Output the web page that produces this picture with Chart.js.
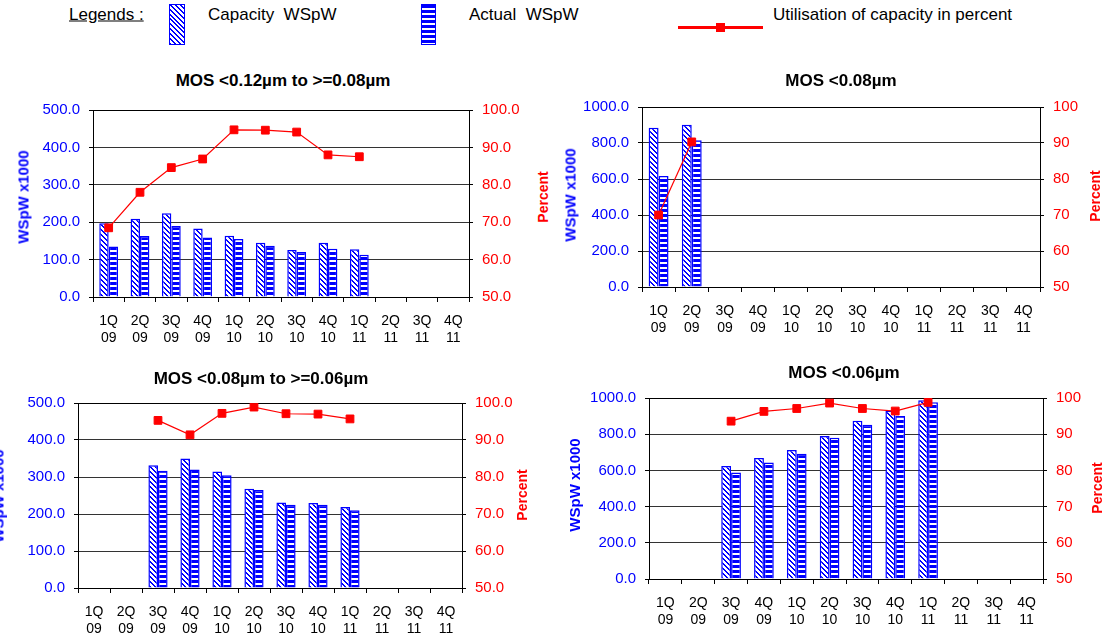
<!DOCTYPE html>
<html>
<head>
<meta charset="utf-8">
<script src="https://cdn.jsdelivr.net/npm/chart.js@4.4.1/dist/chart.umd.min.js"></script>
<style>
  html, body { margin: 0; padding: 0; background: #fff; }
  #page { position: relative; width: 1105px; height: 638px; overflow: hidden;
          font-family: "Liberation Sans", Arial, sans-serif; }
  #page canvas { position: absolute; }
  .txt { position: absolute; white-space: nowrap; line-height: 1; }
  .title { font-weight: bold; font-size: 17px; color: #000; transform: translate(-50%, -50%); }
  .axt { font-weight: bold; transform: translate(-50%, -50%) rotate(-90deg); }
  .blue { color: #0000ff; font-size: 15px; }
  .red { color: #ff0000; font-size: 14px; }
  .leg { font-size: 17px; color: #000; transform: translateY(-50%); }
  .sw { position: absolute; box-sizing: border-box; border: 1px solid #0000ff; }
</style>
</head>
<body>
<div id="page">
  <!-- legend -->
  <div class="txt leg" style="left:69px;top:14px;text-decoration:underline;">Legends :</div>
  <div class="sw" style="left:169px;top:4px;width:16px;height:41px;
       background:repeating-linear-gradient(45deg,#0000ff 0 1.4px,#fff 1.4px 3.4px);"></div>
  <div class="txt leg" style="left:208px;top:14px;">Capacity&nbsp; WSpW</div>
  <div class="sw" style="left:421px;top:4px;width:15px;height:41px;
       background:repeating-linear-gradient(to bottom,#0000ff 0 3px,#fff 3px 5px);"></div>
  <div class="txt leg" style="left:469px;top:14px;">Actual&nbsp; WSpW</div>
  <div style="position:absolute;left:678px;top:26px;width:85px;height:3px;background:#ff0000;"></div>
  <div style="position:absolute;left:716px;top:23px;width:9px;height:9px;background:#ff0000;"></div>
  <div class="txt leg" style="left:773px;top:14px;">Utilisation of capacity in percent</div>

  <canvas id="c1"></canvas>
  <canvas id="c2"></canvas>
  <canvas id="c3"></canvas>
  <canvas id="c4"></canvas>

  <!-- chart titles -->
  <div class="txt title" style="left:283px;top:80px;">MOS &lt;0.12µm to &gt;=0.08µm</div>
  <div class="txt title" style="left:841px;top:80px;">MOS &lt;0.08µm</div>
  <div class="txt title" style="left:261px;top:378px;">MOS &lt;0.08µm to &gt;=0.06µm</div>
  <div class="txt title" style="left:844px;top:372px;">MOS &lt;0.06µm</div>

  <!-- axis titles -->
  <div class="txt axt blue" style="left:23px;top:197px;">WSpW x1000</div>
  <div class="txt axt red" style="left:543px;top:197px;">Percent</div>
  <div class="txt axt blue" style="left:570px;top:195px;">WSpW x1000</div>
  <div class="txt axt red" style="left:1095px;top:196px;">Percent</div>
  <div class="txt axt blue" style="left:-2px;top:496px;">WSpW x1000</div>
  <div class="txt axt red" style="left:522px;top:495px;">Percent</div>
  <div class="txt axt blue" style="left:574px;top:485px;">WSpW x1000</div>
  <div class="txt axt red" style="left:1097px;top:488px;">Percent</div>
</div>

<script>
(function () {
	'use strict';

	// Quarter labels (two lines each).
	var categories = [
		['1Q', '09'], ['2Q', '09'], ['3Q', '09'], ['4Q', '09'],
		['1Q', '10'], ['2Q', '10'], ['3Q', '10'], ['4Q', '10'],
		['1Q', '11'], ['2Q', '11'], ['3Q', '11'], ['4Q', '11']
	];

	// MOS <0.12um to >=0.08um
	var capacity1 = [197, 209, 224, 183, 164, 145, 126, 145, 128, null, null, null];
	var actual1   = [135, 163, 190, 159, 155, 137, 120, 129, 113, null, null, null];
	var util1     = [68.5, 78.0, 84.6, 86.9, 94.7, 94.6, 94.1, 88.0, 87.5, null, null, null];

	// MOS <0.08um
	var capacity2 = [885, 902, null, null, null, null, null, null, null, null, null, null];
	var actual2   = [617, 815, null, null, null, null, null, null, null, null, null, null];
	var util2     = [70.0, 90.3, null, null, null, null, null, null, null, null, null, null];

	// MOS <0.08um to >=0.06um
	var capacity3 = [null, null, 332, 350, 315, 268, 231, 230, 219, null, null, null];
	var actual3   = [null, null, 317, 320, 305, 265, 225, 225, 210, null, null, null];
	var util3     = [null, null, 95.3, 91.4, 97.2, 98.9, 97.1, 97.0, 95.7, null, null, null];

	// MOS <0.06um
	var capacity4 = [null, null, 624, 668, 713, 790, 875, 930, 987, null, null, null];
	var actual4   = [null, null, 588, 643, 692, 781, 852, 900, 977, null, null, null];
	var util4     = [null, null, 93.6, 96.3, 97.1, 98.6, 97.1, 96.4, 98.8, null, null, null];

	var BLUE = '#0000ff';
	var RED  = '#ff0000';
	var FONT = '"Liberation Sans", Arial, sans-serif';

	Chart.defaults.font.family = FONT;

	function hatch(ctx) {
		var c = document.createElement('canvas');
		c.width = 5; c.height = 5;
		var g = c.getContext('2d');
		g.fillStyle = '#fff';
		g.fillRect(0, 0, 5, 5);
		g.fillStyle = BLUE;
		for (var i = 0; i < 5; i++) {
			g.fillRect(i, i, 1, 1);
			g.fillRect((i + 1) % 5, i, 1, 1);
		}
		return ctx.createPattern(c, 'repeat');
	}

	function stripes(ctx) {
		var c = document.createElement('canvas');
		c.width = 4; c.height = 5;
		var g = c.getContext('2d');
		g.fillStyle = '#fff';
		g.fillRect(0, 0, 4, 5);
		g.fillStyle = BLUE;
		g.fillRect(0, 0, 4, 3);
		return ctx.createPattern(c, 'repeat');
	}

	function makeChart(id, box, cap, act, util, yMax, yStep, pctDigits) {
		var L = 80, R = 60, T = 12, B = 50;
		var cv = document.getElementById(id);
		cv.width = L + box.w + R;
		cv.height = T + box.h + B;
		cv.style.left = (box.x - L) + 'px';
		cv.style.top = (box.y - T) + 'px';
		var ctx = cv.getContext('2d');

		new Chart(cv, {
			type: 'bar',
			data: {
				labels: categories,
				datasets: [
					{
						type: 'line',
						label: 'Utilisation of capacity in percent',
						data: util,
						yAxisID: 'y1',
						borderColor: RED,
						borderWidth: 1.2,
						pointStyle: 'rect',
						pointRadius: 5.5,
						pointBackgroundColor: RED,
						pointBorderColor: RED,
						pointBorderWidth: 1,
						tension: 0,
						order: 0
					},
					{
						label: 'Capacity WSpW',
						data: cap,
						yAxisID: 'y',
						backgroundColor: hatch(ctx),
						borderColor: BLUE,
						borderWidth: 1.5,
						categoryPercentage: 0.6,
						barPercentage: 1.0,
						order: 1
					},
					{
						label: 'Actual WSpW',
						data: act,
						yAxisID: 'y',
						backgroundColor: stripes(ctx),
						borderColor: BLUE,
						borderWidth: 1.5,
						categoryPercentage: 0.6,
						barPercentage: 1.0,
						order: 1
					}
				]
			},
			options: {
				responsive: false,
				animation: false,
				devicePixelRatio: 1,
				layout: { padding: { top: T, left: 0, right: 0, bottom: 0 } },
				plugins: {
					legend: { display: false },
					tooltip: { enabled: false },
					title: { display: false }
				},
				scales: {
					x: {
						offset: true,
						grid: {
							display: true, offset: true, drawOnChartArea: false,
							drawTicks: true, tickLength: 5, color: '#000'
						},
						border: { color: '#000', width: 1 },
						ticks: {
							color: '#000', font: { size: 14 }, padding: 11,
							maxRotation: 0, autoSkip: false
						},
						afterFit: function (s) { s.height = B; }
					},
					y: {
						position: 'left',
						min: 0,
						max: yMax,
						ticks: {
							stepSize: yStep, color: BLUE, font: { size: 15 }, padding: 9,
							callback: function (v) { return v.toFixed(1); }
						},
						grid: {
							color: function (c) { return c.tick && c.tick.value === yMax ? '#000' : '#333'; },
							tickColor: '#000',
							tickLength: 4
						},
						border: { color: '#000', width: 1 },
						afterFit: function (s) { s.width = L; }
					},
					y1: {
						position: 'right',
						min: 50,
						max: 100,
						ticks: {
							stepSize: 10, color: RED, font: { size: 15 }, padding: 9,
							callback: function (v) { return v.toFixed(pctDigits); }
						},
						grid: { drawOnChartArea: false, color: '#000', tickLength: 4 },
						border: { color: '#000', width: 1 },
						afterFit: function (s) { s.width = R; }
					}
				}
			}
		});
	}

	makeChart('c1', { x: 93, y: 104, w: 376, h: 193 }, capacity1, actual1, util1, 500, 100, 1);
	makeChart('c2', { x: 642, y: 101, w: 398, h: 186 }, capacity2, actual2, util2, 1000, 200, 0);
	makeChart('c3', { x: 78, y: 397, w: 384, h: 191 }, capacity3, actual3, util3, 500, 100, 1);
	makeChart('c4', { x: 649, y: 392, w: 394, h: 187 }, capacity4, actual4, util4, 1000, 200, 0);
}());
</script>
</body>
</html>
